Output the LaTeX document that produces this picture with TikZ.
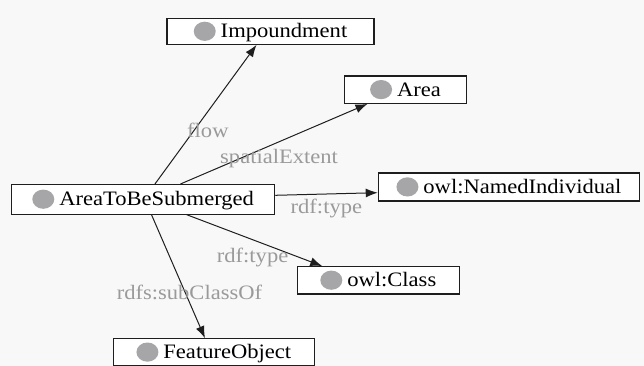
\documentclass[tikz,border=0pt]{standalone}
\usepackage{fontspec}
\setmainfont[FakeStretch=1.1]{Liberation Serif}
\usetikzlibrary{arrows.meta}

\definecolor{pagebg}{HTML}{F8F8F8}
\definecolor{dotgray}{HTML}{A6A6A8}
\definecolor{labelgray}{HTML}{9A9A9A}
\definecolor{inkline}{HTML}{1E1E1E}

% gray bullet that precedes every entity name
\newcommand{\entitydot}{\tikz[baseline=0pt]\fill[dotgray] (11pt,6.6pt) ellipse [x radius=11pt, y radius=9.6pt];\hspace{5pt}}

\tikzset{
  entity/.style={draw=inkline, fill=white, line width=1.1pt, inner sep=0pt,
    text height=13.5pt, text depth=0.5pt, align=center, text=black},
  relation/.style={inner sep=0pt, anchor=base west, text=labelgray},
  link/.style={draw=inkline, line width=1pt, -{Latex[length=12pt,width=9pt]}}
}

\begin{document}
\begin{tikzpicture}[x=1pt, y=-1pt, font=\fontsize{20.5}{24}\selectfont]
  \fill[pagebg] (0,0) rectangle (644,366);
  \useasboundingbox (0,0) rectangle (644,366);

  % entities
  \node[entity, minimum width=207pt,   minimum height=26pt]   (imp)  at (270.5,31.4) {\entitydot Impoundment};
  \node[entity, minimum width=121.7pt, minimum height=27.3pt] (area) at (405.5,89.7) {\entitydot Area};
  \node[entity, minimum width=263.2pt, minimum height=29.5pt] (atbs) at (143.1,199.3) {\entitydot AreaToBeSubmerged};
  \node[entity, minimum width=261.2pt, minimum height=28pt]   (ni)   at (508.9,187) {\entitydot owl:NamedIndividual};
  \node[entity, minimum width=162pt,   minimum height=27.3pt] (cls)  at (378.3,280.3) {\entitydot owl:Class};
  \node[entity, minimum width=200.6pt, minimum height=27pt]   (fo)   at (213.8,352.2) {\entitydot FeatureObject};

  % relations
  \draw[link] ([xshift=144pt]atbs.north west) -- ([xshift=90pt]imp.south west);
  \draw[link] ([xshift=169.5pt]atbs.north west) -- ([xshift=23.4pt]area.south west);
  \draw[link] ([yshift=4pt]atbs.east) -- ([yshift=-5.7pt]ni.west);
  \draw[link] ([xshift=175.5pt]atbs.south west) -- ([xshift=25.5pt]cls.north west);
  \draw[link] ([xshift=140.5pt]atbs.south west) -- ([xshift=92pt]fo.north west);

  % relation names
  \node[relation] (lflow)  at (187,138)   {flow};
  \node[relation] (lext)   at (220,163.3) {spatialExtent};
  \node[relation] (ltype1) at (290.5,213.3) {rdf:type};
  \node[relation] (ltype2) at (216.7,262.3) {rdf:type};
  \node[relation] (lsub)   at (116.6,299.7) {rdfs:subClassOf};
\end{tikzpicture}
\end{document}
